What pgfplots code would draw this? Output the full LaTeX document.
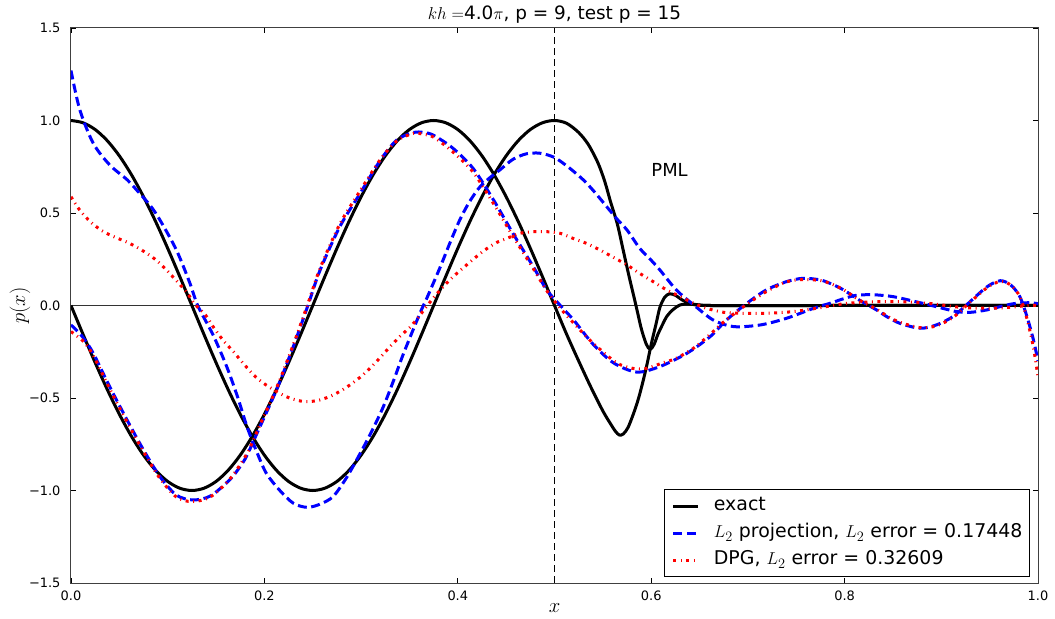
\documentclass[border=0pt]{standalone}
\usepackage[no-math]{fontspec}
\setmainfont{DejaVu Sans}
\usepackage{pgfplots}
\pgfplotsset{compat=1.18}
\begin{document}
\begin{tikzpicture}
\begin{axis}[
  scale only axis, width=967bp, height=555bp,
  at={(0,0)}, anchor=south west,
  xmin=0, xmax=1, ymin=-1.5, ymax=1.5,
  xtick={0,0.2,0.4,0.6,0.8,1.0},
  xticklabels={0.0,0.2,0.4,0.6,0.8,1.0},
  ytick={-1.5,-1,-0.5,0,0.5,1,1.5},
  yticklabels={−1.5,−1.0,−0.5,0.0,0.5,1.0,1.5},
  tick align=inside, major tick length=5bp,
  tick style={black, line width=0.8bp},
  axis line style={black!75, line width=1bp},
  ticklabel style={font=\fontsize{13}{15}\selectfont},
  xticklabel style={yshift=-4bp},
  yticklabel style={xshift=-7bp},
  title={$kh=$4.0$\pi$, p = 9, test p = 15},
  title style={at={(axis description cs:0.5,1)}, anchor=base, yshift=3bp, inner sep=0pt, font=\fontsize{18.5}{20}\selectfont},
  xlabel={$x$},
  xlabel style={at={(axis description cs:0.5,0)}, anchor=base, yshift=-29bp, font=\fontsize{20}{22}\selectfont},
  ylabel={$p(x)$},
  ylabel style={at={(axis description cs:-0.0527,0.5)}, anchor=center, font=\fontsize{20}{22}\selectfont},
  legend style={at={(axis description cs:0.9917,0.0108)}, anchor=south east, draw=black, line width=1bp, fill=white,
    inner xsep=7bp, inner ysep=3bp, row sep=0bp, font=\fontsize{19}{21}\selectfont,
    nodes={inner xsep=0bp, inner ysep=4.75bp, text height=13.5bp, text depth=4bp},
    /tikz/every odd column/.append style={column sep=14bp}},
  legend cell align=left,
  legend image code/.code={\draw[#1] (0bp,0bp) -- (25bp,0bp);},
]
\addplot[black!80, line width=1bp, forget plot] coordinates {(0,0) (1,0)};
\addplot[black, line width=0.8bp, dash pattern=on 7bp off 4bp, forget plot] coordinates {(0.5,-1.5) (0.5,1.5)};

% exact, real part
\addplot[black, line width=3bp, smooth] coordinates {
(0,1) (0.0125,0.9877) (0.025,0.9511) (0.0375,0.8910) (0.05,0.8090) (0.0625,0.7071) (0.075,0.5878) (0.0875,0.4540) (0.1,0.3090) (0.1125,0.1564) (0.125,0) (0.1375,-0.1564) (0.15,-0.3090) (0.1625,-0.4540) (0.175,-0.5878) (0.1875,-0.7071) (0.2,-0.8090) (0.2125,-0.8910) (0.225,-0.9511) (0.2375,-0.9877) (0.25,-1) (0.2625,-0.9877) (0.275,-0.9511) (0.2875,-0.8910) (0.3,-0.8090) (0.3125,-0.7071) (0.325,-0.5878) (0.3375,-0.4540) (0.35,-0.3090) (0.3625,-0.1564) (0.375,0) (0.3875,0.1564) (0.4,0.3090) (0.4125,0.4540) (0.425,0.5878) (0.4375,0.7071) (0.45,0.8090) (0.4625,0.8910) (0.475,0.9511) (0.4875,0.9877) (0.5,1)
(0.5125,0.985) (0.525,0.935) (0.535,0.87) (0.545,0.77) (0.552,0.67) (0.558,0.56) (0.565,0.44) (0.571,0.30) (0.577,0.16) (0.582,0.05) (0.586,-0.04) (0.590,-0.13) (0.595,-0.21) (0.599,-0.237) (0.603,-0.21) (0.607,-0.155) (0.612,-0.10) (0.616,-0.06) (0.622,-0.025) (0.630,0.003) (0.640,0.008) (0.650,0.003) (0.660,0) (0.8,0) (1,0)};
\addlegendentry{exact}
% exact, imaginary part
\addplot[black, line width=3bp, smooth, forget plot] coordinates {
(0,0) (0.0125,-0.1564) (0.025,-0.3090) (0.0375,-0.4540) (0.05,-0.5878) (0.0625,-0.7071) (0.075,-0.8090) (0.0875,-0.8910) (0.1,-0.9511) (0.1125,-0.9877) (0.125,-1) (0.1375,-0.9877) (0.15,-0.9511) (0.1625,-0.8910) (0.175,-0.8090) (0.1875,-0.7071) (0.2,-0.5878) (0.2125,-0.4540) (0.225,-0.3090) (0.2375,-0.1564) (0.25,0) (0.2625,0.1564) (0.275,0.3090) (0.2875,0.4540) (0.3,0.5878) (0.3125,0.7071) (0.325,0.8090) (0.3375,0.8910) (0.35,0.9511) (0.3625,0.9877) (0.375,1) (0.3875,0.9877) (0.4,0.9511) (0.4125,0.8910) (0.425,0.8090) (0.4375,0.7071) (0.45,0.5878) (0.4625,0.4540) (0.475,0.3090) (0.4875,0.1564) (0.5,0)
(0.5125,-0.155) (0.525,-0.30) (0.5375,-0.44) (0.55,-0.57) (0.558,-0.64) (0.563,-0.68) (0.567,-0.70) (0.571,-0.695) (0.576,-0.66) (0.582,-0.58) (0.587,-0.50) (0.592,-0.40) (0.596,-0.31) (0.600,-0.21) (0.605,-0.10) (0.609,-0.01) (0.614,0.045) (0.619,0.063) (0.625,0.055) (0.632,0.03) (0.640,0.01) (0.650,0.002) (0.660,0) (0.8,0) (1,0)};

% L2 projection, real part
\addplot[blue, line width=3bp, dash pattern=on 9bp off 4.5bp, smooth] coordinates {
(0,1.27) (0.009,1.06) (0.023,0.877) (0.040,0.76) (0.058,0.68) (0.071,0.606) (0.082,0.54) (0.092,0.462) (0.109,0.30) (0.123,0.12) (0.131,0.0) (0.147,-0.16) (0.161,-0.33) (0.172,-0.49) (0.182,-0.655) (0.192,-0.79) (0.202,-0.907) (0.216,-1.00) (0.230,-1.069) (0.244,-1.091) (0.257,-1.075) (0.271,-1.033) (0.285,-0.93) (0.299,-0.80) (0.311,-0.68) (0.323,-0.547) (0.334,-0.40) (0.344,-0.258) (0.361,-0.04) (0.368,0.04) (0.382,0.21) (0.392,0.34) (0.402,0.462) (0.412,0.56) (0.423,0.642) (0.433,0.69) (0.444,0.735) (0.457,0.79) (0.471,0.82) (0.485,0.823) (0.500,0.80) (0.515,0.745) (0.530,0.678) (0.542,0.61) (0.554,0.534) (0.565,0.465) (0.575,0.408) (0.588,0.31) (0.599,0.25) (0.609,0.192) (0.626,0.084) (0.644,0.003) (0.664,-0.078) (0.685,-0.114) (0.713,-0.105) (0.740,-0.069) (0.768,-0.015) (0.785,0.012) (0.798,0.035) (0.812,0.055) (0.830,0.058) (0.850,0.048) (0.870,0.025) (0.890,0.0) (0.905,-0.02) (0.916,-0.033) (0.930,-0.037) (0.947,-0.024) (0.961,-0.006) (0.975,0.01) (0.99,0.015) (1.0,0.01)};
\addlegendentry{$L_2$ projection, $L_2$ error = 0.17448}
% L2 projection, imaginary part
\addplot[blue, line width=3bp, dash pattern=on 9bp off 4.5bp, smooth, forget plot] coordinates {
(0,-0.105) (0.012,-0.17) (0.023,-0.258) (0.040,-0.439) (0.058,-0.619) (0.075,-0.781) (0.092,-0.925) (0.109,-1.025) (0.126,-1.051) (0.144,-1.03) (0.164,-0.943) (0.175,-0.87) (0.182,-0.81) (0.195,-0.66) (0.213,-0.45) (0.230,-0.22) (0.245,0.0) (0.2575,0.19) (0.278,0.426) (0.299,0.606) (0.320,0.786) (0.337,0.895) (0.354,0.935) (0.365,0.935) (0.375,0.92) (0.395,0.85) (0.416,0.74) (0.437,0.57) (0.457,0.39) (0.478,0.21) (0.492,0.084) (0.506,0.0) (0.520,-0.08) (0.540,-0.21) (0.561,-0.31) (0.585,-0.36) (0.609,-0.33) (0.637,-0.258) (0.661,-0.168) (0.678,-0.078) (0.699,0.012) (0.719,0.084) (0.740,0.129) (0.757,0.147) (0.775,0.138) (0.787,0.115) (0.799,0.084) (0.815,0.03) (0.833,-0.024) (0.8435,-0.06) (0.857,-0.096) (0.878,-0.123) (0.895,-0.105) (0.912,-0.06) (0.926,0.003) (0.947,0.10) (0.961,0.134) (0.972,0.11) (0.981,0.05) (0.988,-0.05) (0.995,-0.18) (1.0,-0.30)};

% DPG, real part
\addplot[red, line width=3bp, dash pattern=on 3bp off 4.5bp on 1bp off 4.5bp, smooth] coordinates {
(0,0.588) (0.009,0.516) (0.020,0.453) (0.032,0.404) (0.046,0.368) (0.059,0.34) (0.073,0.30) (0.087,0.25) (0.098,0.196) (0.109,0.134) (0.120,0.069) (0.128,0.008) (0.139,-0.051) (0.147,-0.115) (0.157,-0.186) (0.168,-0.25) (0.178,-0.312) (0.189,-0.376) (0.199,-0.42) (0.213,-0.466) (0.226,-0.50) (0.242,-0.52) (0.257,-0.511) (0.271,-0.484) (0.285,-0.442) (0.299,-0.388) (0.309,-0.34) (0.320,-0.28) (0.330,-0.222) (0.340,-0.168) (0.351,-0.115) (0.359,-0.065) (0.370,0.01) (0.382,0.085) (0.394,0.150) (0.406,0.205) (0.416,0.25) (0.428,0.30) (0.440,0.34) (0.451,0.363) (0.464,0.39) (0.478,0.399) (0.492,0.399) (0.506,0.39) (0.519,0.363) (0.533,0.336) (0.547,0.30) (0.561,0.26) (0.575,0.219) (0.588,0.174) (0.602,0.129) (0.616,0.084) (0.630,0.048) (0.644,0.012) (0.657,-0.015) (0.675,-0.037) (0.692,-0.042) (0.719,-0.042) (0.747,-0.033) (0.771,-0.015) (0.80,0.01) (0.83,0.02) (0.86,0.02) (0.89,0.01) (0.92,-0.01) (0.95,-0.015) (0.97,-0.01) (0.99,0.0) (1.0,0.0)};
\addlegendentry{DPG, $L_2$ error = 0.32609}
% DPG, imaginary part
\addplot[red, line width=3bp, dash pattern=on 3bp off 4.5bp on 1bp off 4.5bp, smooth, forget plot] coordinates {
(0,-0.141) (0.013,-0.195) (0.023,-0.27) (0.040,-0.45) (0.058,-0.63) (0.075,-0.79) (0.092,-0.935) (0.109,-1.035) (0.125,-1.06) (0.144,-1.035) (0.164,-0.94) (0.182,-0.80) (0.195,-0.65) (0.213,-0.44) (0.230,-0.21) (0.245,0.01) (0.2575,0.20) (0.278,0.44) (0.299,0.62) (0.320,0.79) (0.337,0.89) (0.354,0.93) (0.365,0.925) (0.375,0.91) (0.395,0.83) (0.416,0.72) (0.437,0.55) (0.457,0.375) (0.478,0.20) (0.492,0.08) (0.506,-0.015) (0.526,-0.13) (0.540,-0.204) (0.564,-0.309) (0.581,-0.34) (0.595,-0.34) (0.612,-0.31) (0.626,-0.285) (0.644,-0.23) (0.660,-0.16) (0.677,-0.08) (0.698,0.003) (0.719,0.075) (0.740,0.128) (0.757,0.14) (0.775,0.135) (0.787,0.115) (0.799,0.085) (0.815,0.03) (0.833,-0.02) (0.845,-0.06) (0.857,-0.09) (0.878,-0.12) (0.895,-0.11) (0.912,-0.065) (0.926,0.0) (0.947,0.095) (0.961,0.13) (0.972,0.11) (0.981,0.05) (0.988,-0.06) (0.995,-0.22) (1.0,-0.385)};

\node[font=\fontsize{18}{20}\selectfont] at (axis cs:0.619,0.732) {PML};
\end{axis}
\pgfresetboundingbox
\path[use as bounding box] (-71bp,-36bp) rectangle (984bp,583bp);
\end{tikzpicture}
\end{document}
